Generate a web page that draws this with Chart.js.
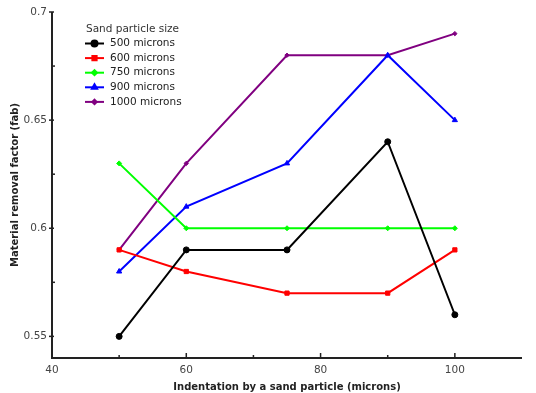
<!DOCTYPE html>
<html><head><meta charset="utf-8">
<script src="https://cdn.jsdelivr.net/npm/chart.js@4/dist/chart.umd.min.js"></script>
<style>html,body{margin:0;padding:0;background:#fff}#w{width:536px;height:393px}</style>
</head><body><div id="w"><canvas id="c"></canvas></div>
<script>
const indentation = [50, 60, 75, 90, 100];
const mrf500 = [0.55, 0.59, 0.59, 0.64, 0.56];
const mrf600 = [0.59, 0.58, 0.57, 0.57, 0.59];
const mrf750 = [0.63, 0.60, 0.60, 0.60, 0.60];
const mrf900 = [0.58, 0.61, 0.63, 0.68, 0.65];
const mrf1000 = [0.59, 0.63, 0.68, 0.68, 0.69];
const seriesLabels = ['500 microns', '600 microns', '750 microns', '900 microns', '1000 microns'];
const xTicks = [40, 60, 80, 100];
const xMinorTicks = [50, 70, 90];
const yTicks = [0.55, 0.6, 0.65, 0.7];
const yMinorTicks = [0.575, 0.625, 0.675];
const legendTitle = 'Sand particle size';

const FONT = '"DejaVu Sans", sans-serif';
const colors = ['#000000', '#ff0000', '#00ff00', '#0000ff', '#800080'];
const styles = ['circle', 'rect', 'rectRot', 'triangle', 'rectRot'];
const radii = [3, 3, 2.5, 3, 2.2];
const allVals = [mrf500, mrf600, mrf750, mrf900, mrf1000];

const datasets = allVals.map((v, i) => ({
  label: seriesLabels[i],
  data: indentation.map((x, j) => ({x, y: v[j]})),
  borderColor: colors[i], backgroundColor: colors[i],
  borderWidth: 2, pointStyle: styles[i], pointRadius: radii[i],
  pointBorderWidth: 1, tension: 0
}));

const custom = {
  id: 'custom',
  afterDraw(chart) {
    const ctx = chart.ctx, xs = chart.scales.x, ys = chart.scales.y;
    const ca = chart.chartArea;
    ctx.save();
    ctx.strokeStyle = '#222'; ctx.lineWidth = 2;
    ctx.beginPath();
    ctx.moveTo(ca.left, ca.top); ctx.lineTo(ca.left, ca.bottom); ctx.lineTo(ca.right, ca.bottom);
    ctx.stroke();
    ctx.lineWidth = 1.5;
    xTicks.forEach(t => { const p = xs.getPixelForValue(t); ctx.beginPath(); ctx.moveTo(p, ca.bottom); ctx.lineTo(p, ca.bottom - 5); ctx.stroke(); });
    xMinorTicks.forEach(t => { const p = xs.getPixelForValue(t); ctx.beginPath(); ctx.moveTo(p, ca.bottom); ctx.lineTo(p, ca.bottom - 3); ctx.stroke(); });
    yTicks.forEach(t => { const p = ys.getPixelForValue(t); ctx.beginPath(); ctx.moveTo(ca.left - 3, p); ctx.lineTo(ca.left + 2, p); ctx.stroke(); });
    yMinorTicks.forEach(t => { const p = ys.getPixelForValue(t); ctx.beginPath(); ctx.moveTo(ca.left, p); ctx.lineTo(ca.left + 3, p); ctx.stroke(); });
    // legend
    ctx.fillStyle = '#333';
    ctx.font = '10.5px ' + FONT;
    ctx.textBaseline = 'middle'; ctx.textAlign = 'left';
    ctx.fillText(legendTitle, 86, 29);
    seriesLabels.forEach((lab, i) => {
      const y = 43.5 + i * 14.6;
      ctx.strokeStyle = colors[i]; ctx.lineWidth = 2;
      ctx.beginPath(); ctx.moveTo(85, y); ctx.lineTo(104, y); ctx.stroke();
      Chart.helpers.drawPoint(ctx, {pointStyle: styles[i], radius: radii[i], borderWidth: 1, rotation: 0}, 94.5, y);
      ctx.fillStyle = colors[i]; ctx.fill();
      ctx.fillStyle = '#222';
      ctx.fillText(lab, 110, y);
    });
    ctx.restore();
  }
};

new Chart(document.getElementById('c'), {
  type: 'line',
  data: { datasets },
  options: {
    responsive: true, maintainAspectRatio: false, animation: false,
    layout: { padding: { top: 12, right: 14, left: 0, bottom: 0 } },
    plugins: { legend: { display: false }, tooltip: { enabled: false } },
    scales: {
      x: {
        type: 'linear', min: 40, max: 110,
        afterBuildTicks: s => { s.ticks = xTicks.map(v => ({value: v})); },
        afterFit: s => { s.height = 35; },
        grid: { display: false, drawTicks: false },
        border: { display: false },
        ticks: { color: '#444', font: { family: FONT, size: 10.5 }, padding: 6, maxRotation: 0 },
        title: { display: true, text: 'Indentation by a sand particle (microns)', color: '#222', font: { family: FONT, size: 10, weight: 'bold' }, padding: { top: 2, bottom: 0 } }
      },
      y: {
        type: 'linear', min: 0.54, max: 0.7,
        afterBuildTicks: s => { s.ticks = yTicks.map(v => ({value: v})); },
        afterFit: s => { s.width = 52; },
        grid: { display: false, drawTicks: false },
        border: { display: false },
        ticks: { color: '#444', font: { family: FONT, size: 10.5 }, padding: 5, callback: v => String(+v.toFixed(3)) },
        title: { display: true, text: 'Material removal factor (fab)', color: '#222', font: { family: FONT, size: 10, weight: 'bold' }, padding: { top: 9, bottom: 4 } }
      }
    }
  },
  plugins: [custom]
});
</script></body></html>
